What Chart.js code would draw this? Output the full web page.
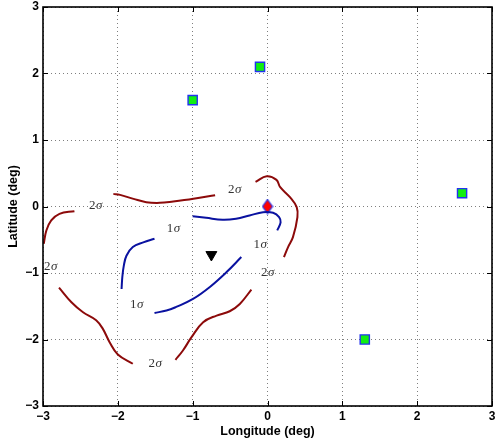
<!DOCTYPE html>
<html>
<head>
<meta charset="utf-8">
<script src="https://cdn.jsdelivr.net/npm/chart.js@4"></script>
<style>
  html, body { margin: 0; padding: 0; background: #fff; }
</style>
</head>
<body>
<canvas id="c" width="495" height="441"></canvas>
<script>
// axis ticks
const xTicks = [-3, -2, -1, 0, 1, 2, 3];
const yTicks = [-3, -2, -1, 0, 1, 2, 3];

// sources (green squares)
const sources = [[-1.0, 1.6], [-0.1, 2.1], [2.6, 0.2], [1.3, -2.0]];
// true position (red diamond) and estimate (black triangle)
const truePos = [[0, 0]];
const estimate = [[-0.75, -0.725]];

// 2 sigma contour pieces
const red1 = [[-2.99, -0.56], [-2.955, -0.36], [-2.89, -0.21], [-2.78, -0.11], [-2.58, -0.07]];
const red2 = [[-2.06, 0.19], [-1.97, 0.175], [-1.79, 0.115], [-1.62, 0.065], [-1.44, 0.055], [-1.26, 0.075], [-0.99, 0.115], [-0.70, 0.17]];
const red3 = [[-0.16, 0.37], [-0.01, 0.455], [0.12, 0.40], [0.17, 0.29], [0.30, 0.14], [0.39, -0.01], [0.40, -0.16], [0.34, -0.46], [0.275, -0.61], [0.22, -0.76]];
const red4 = [[-2.786, -1.22], [-2.62, -1.44], [-2.465, -1.59], [-2.29, -1.71], [-2.20, -1.84], [-2.11, -2.04], [-2.0, -2.225], [-1.80, -2.365]];
const red5 = [[-1.23, -2.305], [-1.13, -2.165], [-1.015, -1.965], [-0.86, -1.74], [-0.68, -1.64], [-0.505, -1.575], [-0.37, -1.465], [-0.215, -1.25]];

// 1 sigma contour pieces
const blue1 = [[-1.0, -0.145], [-0.82, -0.17], [-0.60, -0.20], [-0.42, -0.185], [-0.24, -0.135], [-0.06, -0.085], [0.075, -0.095], [0.155, -0.16], [0.175, -0.24], [0.13, -0.36]];
const blue2 = [[-1.51, -0.485], [-1.66, -0.54], [-1.80, -0.61], [-1.885, -0.74], [-1.92, -0.89], [-1.94, -1.06], [-1.95, -1.24]];
const blue3 = [[-1.51, -1.60], [-1.35, -1.565], [-1.22, -1.51], [-0.995, -1.39], [-0.77, -1.21], [-0.55, -0.99], [-0.35, -0.76]];

// contour labels
const labelText = ["2", "2", "2", "2", "2", "1", "1", "1"];
const labelPos = [[-2.30, 0.01], [-0.44, 0.25], [-2.90, -0.91], [0.0, -1.0], [-1.505, -2.355], [-1.26, -0.335], [-1.75, -1.47], [-0.10, -0.57]];

const RED = "#8c0a0a";
const BLUE = "#0a12a0";

const toPts = arr => arr.map(p => ({ x: p[0], y: p[1] }));
const minus = v => String(v).replace("-", "\u2212");

function diamond(w, h) {
    const c = document.createElement("canvas");
    c.width = w + 2;
    c.height = h + 2;
    const g = c.getContext("2d");
    g.beginPath();
    g.moveTo(c.width / 2, 1);
    g.lineTo(w + 1, c.height / 2);
    g.lineTo(c.width / 2, h + 1);
    g.lineTo(1, c.height / 2);
    g.closePath();
    g.fillStyle = "#ff0000";
    g.fill();
    g.strokeStyle = "#2233ee";
    g.lineWidth = 1.2;
    g.stroke();
    return c;
}

function curve(arr, color) {
    return {
        data: toPts(arr),
        showLine: true,
        borderColor: color,
        borderWidth: 2,
        pointRadius: 0,
        tension: 0.4,
        fill: false
    };
}

function noPad(scale) {
    scale.paddingLeft = 0;
    scale.paddingRight = 0;
    scale.paddingTop = 0;
    scale.paddingBottom = 0;
}

const sigmaLabels = {
    id: "sigmaLabels",
    afterDatasetsDraw(chart) {
        const ctx = chart.ctx;
        const xs = chart.scales.x, ys = chart.scales.y;
        ctx.save();
        ctx.fillStyle = "#333";
        ctx.textBaseline = "middle";
        labelPos.forEach((p, i) => {
            const px = xs.getPixelForValue(p[0]);
            const py = ys.getPixelForValue(p[1]);
            ctx.font = '13px "Liberation Serif"';
            const w1 = ctx.measureText(labelText[i]).width;
            ctx.font = 'italic 13px "Liberation Serif"';
            const w2 = ctx.measureText("\u03c3").width;
            const x0 = px - (w1 + w2) / 2;
            ctx.font = '13px "Liberation Serif"';
            ctx.fillText(labelText[i], x0, py);
            ctx.font = 'italic 13px "Liberation Serif"';
            ctx.fillText("\u03c3", x0 + w1 + 0.5, py);
        });
        ctx.restore();
    }
};

const boxTicks = {
    id: "boxTicks",
    afterDraw(chart) {
        const ctx = chart.ctx;
        const a = chart.chartArea;
        const xs = chart.scales.x, ys = chart.scales.y;
        ctx.save();
        ctx.strokeStyle = "#000";
        ctx.lineWidth = 1;
        ctx.beginPath();
        xTicks.forEach(v => {
            const px = Math.round(xs.getPixelForValue(v)) + 0.5;
            ctx.moveTo(px, a.bottom); ctx.lineTo(px, a.bottom - 5);
            ctx.moveTo(px, a.top); ctx.lineTo(px, a.top + 5);
        });
        yTicks.forEach(v => {
            const py = Math.round(ys.getPixelForValue(v)) + 0.5;
            ctx.moveTo(a.left, py); ctx.lineTo(a.left + 5, py);
            ctx.moveTo(a.right, py); ctx.lineTo(a.right - 5, py);
        });
        ctx.stroke();
        ctx.lineWidth = 1.6;
        ctx.strokeRect(a.left, a.top, a.right - a.left, a.bottom - a.top);
        ctx.restore();
    }
};

const tickFont = { family: '"Liberation Sans", Arial, sans-serif', size: 12, weight: "bold" };
const titleFont = { family: '"Liberation Sans", Arial, sans-serif', size: 12.5, weight: "bold" };

new Chart(document.getElementById("c").getContext("2d"), {
    type: "scatter",
    data: {
        datasets: [
            curve(red1, RED), curve(red2, RED), curve(red3, RED), curve(red4, RED), curve(red5, RED),
            curve(blue1, BLUE), curve(blue2, BLUE), curve(blue3, BLUE),
            {
                data: toPts(sources),
                pointStyle: "rect",
                pointRadius: 6.5,
                backgroundColor: "#11ee11",
                borderColor: "#2233ee",
                borderWidth: 1.4
            },
            {
                data: toPts(truePos),
                pointStyle: diamond(10, 14),
                pointRadius: 7
            },
            {
                data: toPts(estimate),
                pointStyle: "triangle",
                rotation: 180,
                pointRadius: 6.3,
                backgroundColor: "#000",
                borderColor: "#000",
                borderWidth: 1
            }
        ]
    },
    options: {
        responsive: false,
        animation: false,
        layout: { autoPadding: false, padding: { top: 7, right: 3, left: 0, bottom: 0 } },
        plugins: {
            legend: { display: false },
            tooltip: { enabled: false }
        },
        scales: {
            x: {
                type: "linear",
                min: -3,
                max: 3,
                afterFit(scale) { scale.height = 35; noPad(scale); },
                afterBuildTicks(scale) { scale.ticks = xTicks.map(v => ({ value: v })); },
                ticks: { color: "#000", font: tickFont, padding: 3, maxRotation: 0, callback: minus },
                grid: { color: "rgba(0,0,0,0.5)", lineWidth: 1, drawTicks: false },
                border: { display: false, dash: [1, 3] },
                title: { display: true, text: "Longitude (deg)", color: "#000", font: titleFont, padding: { top: 0, bottom: 2 } }
            },
            y: {
                type: "linear",
                min: -3,
                max: 3,
                afterFit(scale) { scale.width = 43; noPad(scale); },
                afterBuildTicks(scale) { scale.ticks = yTicks.map(v => ({ value: v })); },
                ticks: { color: "#000", font: tickFont, padding: 4, callback: minus },
                grid: { color: "rgba(0,0,0,0.5)", lineWidth: 1, drawTicks: false },
                border: { display: false, dash: [1, 3] },
                title: { display: true, text: "Latitude (deg)", color: "#000", font: titleFont, padding: { top: 6, bottom: 0 } }
            }
        }
    },
    plugins: [sigmaLabels, boxTicks]
});
</script>
</body>
</html>
